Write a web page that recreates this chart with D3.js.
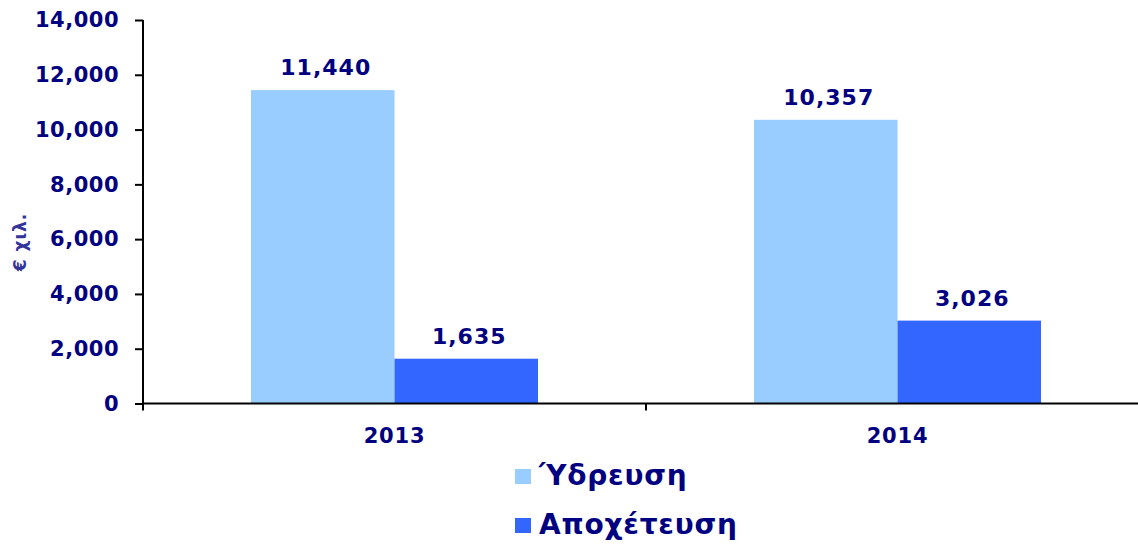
<html>
<head>
<meta charset="utf-8">
<script src="https://d3js.org/d3.v7.min.js"></script>
<style>
body { margin:0; background:#fff; }
.axis text { font-family:"DejaVu Sans", Verdana, sans-serif; font-weight:bold; fill:#000080; }
.axis path, .axis line { stroke:#000; stroke-width:2; }
</style>
</head>
<body>
<svg width="1138" height="545"></svg>
<script>
// data
var years = ["2013", "2014"];
var seriesNames = ["Ύδρευση", "Αποχέτευση"];
var water = [11440, 10357];
var sewage = [1635, 3026];
var yTicks = [0, 2000, 4000, 6000, 8000, 10000, 12000, 14000];
var colors = ["#99ccff", "#3366ff"];

var rows = years.map(function(y, i) { return {year:y, values:[water[i], sewage[i]]}; });

var width = 1138, height = 545;
var margin = {top: 20, left: 143, bottom: 141.5};
var svg = d3.select("svg");

var x0 = d3.scaleBand().domain(years).range([margin.left, 1149]);
var x1 = d3.scaleBand().domain(seriesNames).range([108, 395]);
var y = d3.scaleLinear().domain([0, 14000]).range([height - margin.bottom, margin.top]);
var fmt = d3.format(",");

// bars
var groups = svg.selectAll(".grp")
	.data(rows)
	.enter()
	.append("g")
	.attr("class", "grp")
	.attr("transform", function(d) { return "translate(" + x0(d.year) + ",0)"; });
groups.selectAll("rect")
	.data(function(d) { return d.values.map(function(v, i) { return {name:seriesNames[i], value:v, c:colors[i]}; }); })
	.enter()
	.append("rect")
	.attr("x", function(d) { return x1(d.name); })
	.attr("y", function(d) { return y(d.value); })
	.attr("width", x1.bandwidth())
	.attr("height", function(d) { return y(0) - y(d.value); })
	.attr("fill", function(d) { return d.c; });
groups.selectAll("text.val")
	.data(function(d) { return d.values.map(function(v, i) { return {name:seriesNames[i], value:v}; }); })
	.enter()
	.append("text")
	.attr("class", "val")
	.attr("x", function(d) { return x1(d.name) + x1.bandwidth() / 2 + 3; })
	.attr("y", function(d) { return y(d.value) - 15; })
	.attr("text-anchor", "middle")
	.style("font-family", "'DejaVu Sans', Verdana, sans-serif")
	.style("font-weight", "bold")
	.style("font-size", "22px")
	.style("letter-spacing", "1px")
	.attr("fill", "#000080")
	.text(function(d) { return fmt(d.value); });

// axes
svg.append("g")
	.attr("class", "axis")
	.attr("transform", "translate(" + margin.left + ",0)")
	.call(d3.axisLeft(y).tickValues(yTicks).tickFormat(fmt).tickSize(8).tickSizeOuter(0).tickPadding(16))
	.call(function(g) { g.selectAll("text").style("font-size", "21px").style("letter-spacing", "0.5px"); })
	.call(function(g) { g.select(".domain").attr("d", "M0," + margin.top + "V" + (y(0) + 7)); });

var xAxis = svg.append("g")
	.attr("class", "axis")
	.attr("transform", "translate(0," + y(0) + ")")
	.call(d3.axisBottom(x0).tickSize(0).tickPadding(25))
	.call(function(g) { g.selectAll("text").style("font-size", "21px").style("letter-spacing", "0.8px"); })
	.call(function(g) { g.select(".domain").attr("d", "M" + margin.left + ",0H1149"); });
// separators between categories
xAxis.selectAll(".sep")
	.data([margin.left + x0.bandwidth()])
	.enter()
	.append("line")
	.attr("x1", function(d) { return d; })
	.attr("x2", function(d) { return d; })
	.attr("y1", 0)
	.attr("y2", 7)
	.attr("stroke", "#000")
	.attr("stroke-width", 2);

// y title
svg.append("text")
	.attr("transform", "translate(26,242) rotate(-90)")
	.attr("text-anchor", "middle")
	.style("font-family", "'DejaVu Sans', Verdana, sans-serif")
	.style("font-weight", "bold")
	.style("font-size", "17px")
	.style("letter-spacing", "1px")
	.attr("fill", "#333399")
	.text("€ χιλ.");

// legend
var legend = svg.selectAll(".legend")
	.data(seriesNames)
	.enter()
	.append("g")
	.attr("class", "legend")
	.attr("transform", function(d, i) { return "translate(515," + (469 + i * 49) + ")"; });
legend.append("rect")
	.attr("width", 16)
	.attr("height", 15)
	.attr("fill", function(d, i) { return colors[i]; });
legend.append("text")
	.attr("x", 24)
	.attr("y", 16)
	.style("font-family", "'DejaVu Sans', Verdana, sans-serif")
	.style("font-weight", "bold")
	.style("font-size", "28px")
	.style("letter-spacing", "0.8px")
	.attr("fill", "#000080")
	.text(function(d) { return d; });
</script>
</body>
</html>
